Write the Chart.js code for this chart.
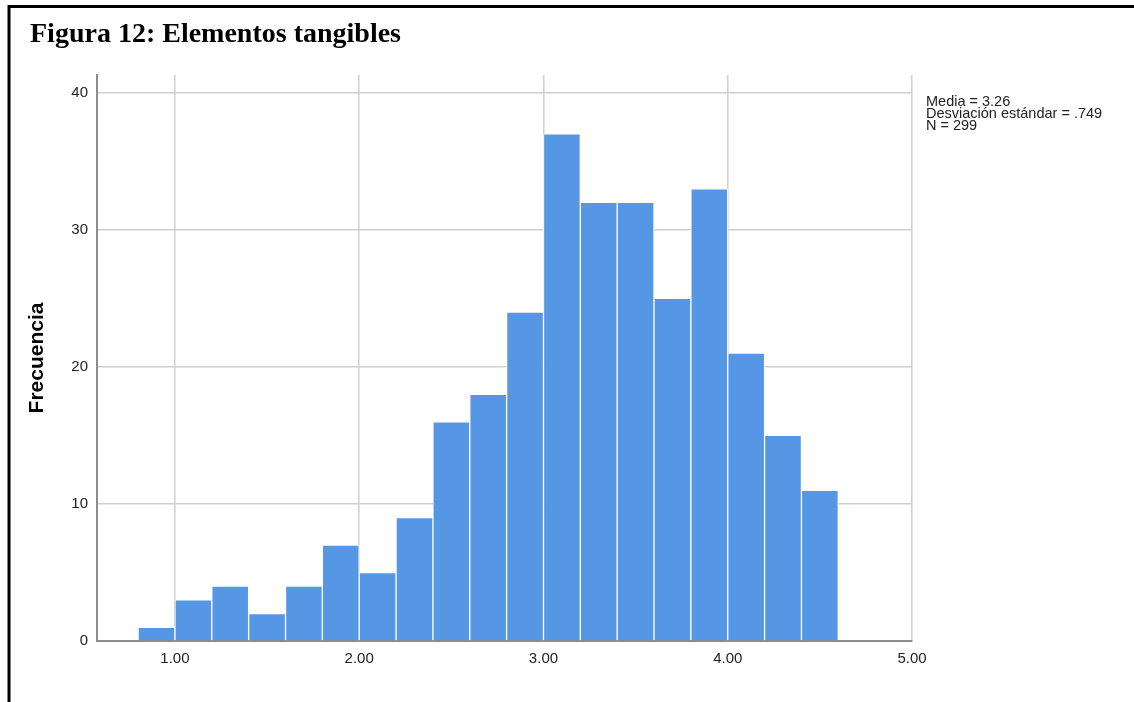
<!DOCTYPE html>
<html>
<head>
<meta charset="utf-8">
<script src="https://cdn.jsdelivr.net/npm/chart.js@4.4.1/dist/chart.umd.min.js"></script>
<style>
  html, body { margin: 0; padding: 0; background: #fff; }
  canvas { display: block; }
</style>
</head>
<body>
<canvas id="hist" width="1134" height="702"></canvas>
<script>
// bin centres (bins of width 0.2) and counts
const binCenters = [0.9, 1.1, 1.3, 1.5, 1.7, 1.9, 2.1, 2.3, 2.5, 2.7, 2.9, 3.1, 3.3, 3.5, 3.7, 3.9, 4.1, 4.3, 4.5];
const counts = [1, 3, 4, 2, 4, 7, 5, 9, 16, 18, 24, 37, 32, 32, 25, 33, 21, 15, 11];
const statsLines = ['Media = 3.26', 'Desviación estándar = .749', 'N = 299'];
const figureTitle = 'Figura 12: Elementos tangibles';

const frameAndText = {
  id: 'frameAndText',
  afterDraw(chart) {
    const ctx = chart.ctx;
    ctx.save();
    // black frame (top and left)
    ctx.strokeStyle = '#000';
    ctx.lineWidth = 3;
    ctx.beginPath();
    ctx.moveTo(9, 702);
    ctx.lineTo(9, 6.5);
    ctx.lineTo(1134, 6.5);
    ctx.stroke();

    ctx.fillStyle = '#000';
    ctx.font = 'bold 28px "Liberation Serif", "Times New Roman", serif';
    ctx.textBaseline = 'alphabetic';
    ctx.fillText(figureTitle, 30, 42);

    // stats box
    ctx.fillStyle = '#222';
    ctx.font = '14.5px "Liberation Sans", Arial, sans-serif';
    const x = chart.chartArea.right + 14;
    statsLines.forEach((t, i) => ctx.fillText(t, x, 106 + i * 12));
    ctx.restore();
  }
};

new Chart(document.getElementById('hist'), {
  type: 'bar',
  data: {
    datasets: [{
      data: binCenters.map((c, i) => ({ x: c, y: counts[i] })),
      backgroundColor: '#5596E5',
      borderColor: '#ffffff',
      borderWidth: 1,
      barPercentage: 1,
      categoryPercentage: 1,
    }],
  },
  options: {
    responsive: false,
    animation: false,
    devicePixelRatio: 1,
    layout: { padding: { left: 0, right: 222, top: 75, bottom: 0 } },
    plugins: {
      legend: { display: false },
      title: { display: false },
      tooltip: { enabled: false },
    },
    scales: {
      x: {
        type: 'linear',
        min: 0.577,
        max: 5.0,
        offset: false,
        afterFit: (s) => { s.height = 61; },
        ticks: {
          stepSize: 1,
          includeBounds: false,
          padding: 9,
          color: '#222',
          font: { family: '"Liberation Sans", Arial, sans-serif', size: 15 },
          callback: (v) => v.toFixed(2),
        },
        grid: { color: '#cfcfcf', lineWidth: 1.5, drawTicks: false, offset: false },
        border: { color: '#8c8c8c', width: 2 },
      },
      y: {
        min: 0,
        max: 41.3,
        afterFit: (s) => { s.width = 97; },
        ticks: {
          stepSize: 10,
          includeBounds: false,
          padding: 9,
          color: '#222',
          font: { family: '"Liberation Sans", Arial, sans-serif', size: 15 },
        },
        grid: { color: '#cfcfcf', lineWidth: 1.5, drawTicks: false },
        border: { color: '#8c8c8c', width: 2 },
        title: {
          display: true,
          text: 'Frecuencia',
          color: '#000',
          padding: { top: 25, bottom: 0 },
          font: { family: '"Liberation Sans", Arial, sans-serif', size: 21, weight: 'bold' },
        },
      },
    },
  },
  plugins: [frameAndText],
});
</script>
</body>
</html>
